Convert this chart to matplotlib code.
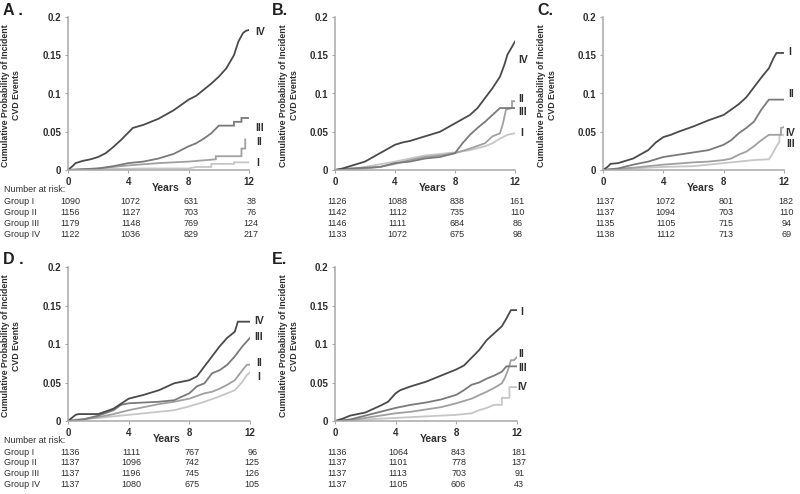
import matplotlib
matplotlib.use("Agg")
import matplotlib.pyplot as plt
from matplotlib.transforms import blended_transform_factory

plt.rcParams['font.family'] = ['Liberation Sans', 'DejaVu Sans']

W, H = 800, 494

# ---------------- data (years, cumulative probability) ----------------
years_ticks = [0, 4, 8, 12]
prob_ticks = [0, 0.05, 0.1, 0.15, 0.2]
prob_tick_labels = ["0", "0.05", "0.1", "0.15", "0.2"]
groups = ["Group I", "Group II", "Group III", "Group IV"]

A_IV = [(0, 0), (0.3, 0.005), (0.5, 0.009), (1, 0.012), (1.5, 0.014), (2, 0.017), (2.5, 0.022),
        (3, 0.030), (3.5, 0.039), (4, 0.049), (4.3, 0.055), (5, 0.059), (6, 0.067), (7, 0.078),
        (8, 0.092), (8.5, 0.097), (9, 0.105), (9.5, 0.113), (10, 0.122), (10.5, 0.133),
        (11, 0.150), (11.3, 0.168), (11.6, 0.179), (11.8, 0.182), (12, 0.183)]
A_III = [(0, 0), (1, 0.001), (2, 0.002), (3, 0.005), (4, 0.009), (5, 0.011), (6, 0.015),
         (7, 0.021), (8, 0.031), (8.5, 0.035), (9, 0.041), (9.5, 0.048), (10, 0.058), (11, 0.058),
         (11, 0.063), (11.5, 0.063), (11.5, 0.068), (12, 0.068)]
A_II = [(0, 0), (2, 0.002), (4, 0.006), (6, 0.009), (8, 0.011), (9.8, 0.014), (9.8, 0.018),
        (11.5, 0.018), (11.5, 0.028), (11.75, 0.028), (11.75, 0.040)]
A_I = [(0, 0), (2, 0.001), (5, 0.002), (8, 0.002), (8.5, 0.004), (9.5, 0.004), (9.5, 0.008),
       (11, 0.008), (11, 0.010), (12, 0.010)]
A_risk = [[1090, 1072, 631, 38], [1156, 1127, 703, 76], [1179, 1148, 769, 124], [1122, 1036, 829, 217]]

B_IV = [(0, 0), (0.5, 0.002), (1, 0.005), (2, 0.011), (3, 0.022), (4, 0.033), (4.5, 0.036),
        (5, 0.038), (6, 0.044), (7, 0.050), (8, 0.061), (9, 0.072), (9.5, 0.081), (10, 0.094),
        (10.5, 0.107), (11, 0.122), (11.3, 0.138), (11.5, 0.151), (11.8, 0.161), (12, 0.168)]
B_III = [(0, 0), (1, 0.002), (3, 0.004), (4, 0.009), (5, 0.011), (6, 0.015), (7, 0.017),
         (8, 0.022), (8.5, 0.035), (9, 0.046), (9.5, 0.055), (10, 0.063), (10.5, 0.072),
         (11, 0.081), (12, 0.081)]
B_II = [(0, 0), (1, 0.001), (2, 0.002), (3, 0.004), (4, 0.008), (5, 0.013), (6, 0.017),
        (7, 0.019), (8, 0.022), (9, 0.028), (10, 0.035), (10.5, 0.044), (11, 0.048),
        (11.2, 0.061), (11.4, 0.079), (11.8, 0.081), (11.8, 0.090), (12, 0.090)]
B_I = [(0, 0), (1, 0.001), (2, 0.004), (4, 0.011), (5, 0.015), (6, 0.019), (7, 0.021),
       (8, 0.023), (9, 0.026), (10, 0.031), (10.5, 0.035), (11, 0.041), (11.5, 0.046), (12, 0.048)]
B_risk = [[1126, 1088, 838, 161], [1142, 1112, 735, 110], [1146, 1111, 684, 86], [1133, 1072, 675, 98]]

C_I = [(0, 0), (0.3, 0.004), (0.5, 0.008), (1, 0.009), (2, 0.015), (3, 0.026), (3.5, 0.036),
       (4, 0.043), (4.5, 0.046), (5, 0.050), (6, 0.057), (7, 0.065), (8, 0.072), (8.5, 0.079),
       (9, 0.086), (9.5, 0.095), (10, 0.108), (10.5, 0.121), (11, 0.133), (11.3, 0.146),
       (11.5, 0.153), (12, 0.153)]
C_II = [(0, 0), (1, 0.002), (2, 0.007), (3, 0.011), (4, 0.017), (5, 0.020), (6, 0.023),
        (7, 0.026), (8, 0.033), (8.5, 0.039), (9, 0.048), (9.5, 0.055), (10, 0.063),
        (10.5, 0.079), (11, 0.092), (12, 0.092)]
C_IV = [(0, 0), (2, 0.003), (4, 0.007), (6, 0.010), (7, 0.011), (8, 0.013), (8.5, 0.015),
        (9, 0.020), (9.5, 0.024), (10, 0.031), (10.5, 0.039), (11, 0.046), (11.8, 0.046),
        (11.8, 0.055), (12, 0.056)]
C_III = [(0, 0), (2, 0.002), (4, 0.004), (6, 0.005), (8, 0.009), (9, 0.011), (10, 0.013),
         (11, 0.014), (11.2, 0.020), (11.5, 0.031), (11.7, 0.037), (11.7, 0.046), (12, 0.046)]
C_risk = [[1137, 1072, 801, 182], [1137, 1094, 703, 110], [1135, 1105, 715, 94], [1138, 1112, 713, 69]]

D_IV = [(0, 0), (0.5, 0.008), (0.7, 0.009), (2, 0.009), (3, 0.016), (4, 0.029), (5, 0.034),
        (6, 0.040), (7, 0.049), (8, 0.053), (8.5, 0.058), (9, 0.071), (9.5, 0.084), (10, 0.097),
        (10.5, 0.108), (11, 0.116), (11.2, 0.129), (12, 0.129)]
D_III = [(0, 0), (1, 0.002), (2, 0.007), (3, 0.014), (3.5, 0.021), (4, 0.023), (5, 0.024),
         (6, 0.025), (7, 0.027), (8, 0.036), (8.5, 0.045), (9, 0.049), (9.5, 0.062), (10, 0.066),
         (10.5, 0.073), (11, 0.084), (11.5, 0.097), (12, 0.108)]
D_II = [(0, 0), (1, 0.002), (2, 0.005), (3, 0.009), (4, 0.014), (5, 0.018), (6, 0.022),
        (7, 0.025), (8, 0.029), (9, 0.036), (9.5, 0.038), (10, 0.042), (10.5, 0.047),
        (11, 0.053), (11.5, 0.066), (11.8, 0.073), (12, 0.073)]
D_I = [(0, 0), (0.5, 0.002), (2, 0.004), (4, 0.008), (6, 0.012), (7, 0.014), (8, 0.019),
       (9, 0.025), (10, 0.032), (10.5, 0.036), (11, 0.040), (11.5, 0.051), (11.8, 0.060), (12, 0.063)]
D_risk = [[1136, 1111, 767, 96], [1137, 1096, 742, 125], [1137, 1196, 745, 126], [1137, 1080, 675, 105]]

E_I = [(0, 0), (0.5, 0.003), (1, 0.007), (2, 0.011), (3, 0.020), (3.5, 0.025), (4, 0.036),
       (4.3, 0.040), (5, 0.045), (6, 0.051), (7, 0.059), (8, 0.067), (8.5, 0.072), (9, 0.082),
       (9.5, 0.092), (10, 0.105), (10.5, 0.114), (11, 0.123), (11.3, 0.133), (11.6, 0.144), (12, 0.144)]
E_II = [(0, 0), (1, 0.002), (2, 0.007), (3, 0.012), (4, 0.017), (5, 0.021), (6, 0.024),
        (7, 0.028), (8, 0.034), (8.5, 0.040), (9, 0.047), (9.5, 0.050), (10, 0.055),
        (10.5, 0.059), (11, 0.064), (11.3, 0.071), (12, 0.071)]
E_III = [(0, 0), (1, 0.001), (2, 0.004), (3, 0.007), (4, 0.010), (5, 0.012), (6, 0.015),
         (7, 0.018), (8, 0.023), (9, 0.029), (10, 0.038), (10.5, 0.043), (11, 0.049),
         (11.2, 0.056), (11.4, 0.066), (11.6, 0.079), (11.8, 0.079), (12, 0.083)]
E_IV = [(0, 0), (2, 0.002), (4, 0.004), (6, 0.006), (7, 0.007), (8, 0.008), (9, 0.010),
        (9.5, 0.014), (10, 0.017), (10.5, 0.021), (11, 0.021), (11, 0.030), (11.5, 0.030),
        (11.5, 0.044), (12, 0.044)]
E_risk = [[1136, 1064, 843, 181], [1137, 1101, 778, 137], [1137, 1113, 703, 91], [1137, 1105, 606, 43]]

# ---------------- styling ----------------
DARK, MED, LIGHT, PALE = "#4a4a4a", "#7a7a7a", "#a0a0a0", "#c6c6c6"
SPINE = "#a8a8a8"
TXT = "#2e2e2e"

fig = plt.figure(figsize=(W / 100, H / 100), dpi=100)


def fx(x):
    return x / W


def fy(y):
    return 1 - y / H


def panel(letter, letter_xy, box, curves, labels, risk, ylabel_x, risk_y, show_groups):
    x0, x1, ytop, ybot = box
    ax = fig.add_axes([fx(x0), fy(ybot), (x1 - x0) / W, (ybot - ytop) / H])
    for data, col in curves:
        t = [p[0] for p in data]
        v = [p[1] for p in data]
        ax.plot(t, v, color=col, lw=1.3, solid_joinstyle='miter')
    ax.set_xlim(0, 12)
    ax.set_ylim(0, 0.2)
    ax.set_xticks(years_ticks)
    ax.set_xticklabels([str(t) for t in years_ticks])
    ax.set_yticks(prob_ticks)
    ax.set_yticklabels(prob_tick_labels)
    for s in ["top", "right"]:
        ax.spines[s].set_visible(False)
    for s in ["left", "bottom"]:
        ax.spines[s].set_color(SPINE)
        ax.spines[s].set_linewidth(1.1)
    ax.tick_params(axis='both', length=2, width=0.8, color=SPINE, labelsize=7,
                   labelcolor=TXT, pad=3)
    for lab in ax.get_xticklabels() + ax.get_yticklabels():
        lab.set_fontweight('bold')
    ax.patch.set_alpha(0)
    # curve labels
    for txt, (lx, ly) in labels:
        fig.text(fx(lx), fy(ly), txt, fontsize=7.5, fontweight='bold', color=TXT,
                 ha='left', va='center')
    # y label
    fig.text(fx(ylabel_x), fy((ytop + ybot) / 2 + 2),
             "Cumulative Probability of Incident\nCVD Events", rotation=90,
             fontsize=6.3, fontweight='bold', color=TXT, ha='center', va='center',
             multialignment='center', linespacing=1.25)
    # panel letter
    fig.text(fx(letter_xy[0]), fy(letter_xy[1]), letter, fontsize=11.5, fontweight='bold',
             color="#202020", ha='left', va='top')
    # x label
    trx = blended_transform_factory(ax.transData, fig.transFigure)
    ax.text(6.5, fy(risk_y[0] - 1), "Years", transform=trx, fontsize=7.5, fontweight='bold',
            color=TXT, ha='center', va='center')
    if show_groups:
        fig.text(fx(4), fy(risk_y[0]), "Number at risk:", fontsize=6.5, color=TXT,
                 ha='left', va='center')
    for gi, row in enumerate(risk):
        yy = fy(risk_y[1] + gi * 10.7)
        if show_groups:
            fig.text(fx(4), yy, groups[gi], fontsize=6.5, color=TXT, ha='left', va='center')
        for tv, val in zip(years_ticks, row):
            ax.text(tv + 0.15, yy, str(val), transform=trx, fontsize=6.5, color=TXT,
                    ha='center', va='center')
    return ax


panel("A .", (3, 3), (68, 249, 17, 170),
      [(A_I, PALE), (A_II, LIGHT), (A_III, MED), (A_IV, DARK)],
      [("IV", (255, 32)), ("III", (255, 128)), ("II", (256, 142)), ("I", (256, 163))],
      A_risk, 11, (189, 202), True)

panel("B.", (272, 3), (335, 515, 17, 170),
      [(B_I, PALE), (B_II, LIGHT), (B_III, MED), (B_IV, DARK)],
      [("IV", (518, 60)), ("II", (518, 99)), ("III", (518, 112)), ("I", (520, 133))],
      B_risk, 289, (189, 202), False)

panel("C.", (537, 3), (603, 784, 17, 170),
      [(C_III, PALE), (C_IV, LIGHT), (C_II, MED), (C_I, DARK)],
      [("I", (788, 52)), ("II", (788, 94)), ("IV", (785, 133)), ("III", (786, 144))],
      C_risk, 547, (189, 202), False)

panel("D .", (3, 252), (68, 250, 267, 421),
      [(D_I, PALE), (D_II, LIGHT), (D_III, MED), (D_IV, DARK)],
      [("IV", (254, 321)), ("III", (254, 337)), ("II", (256, 363)), ("I", (257, 377))],
      D_risk, 11, (440, 452), True)

panel("E.", (272, 252), (335, 517, 267, 421),
      [(E_IV, PALE), (E_III, LIGHT), (E_II, MED), (E_I, DARK)],
      [("I", (520, 312)), ("II", (518, 354)), ("III", (518, 368)), ("IV", (517, 387))],
      E_risk, 289, (440, 452), False)

fig.savefig("out.png", dpi=100, facecolor="white")
